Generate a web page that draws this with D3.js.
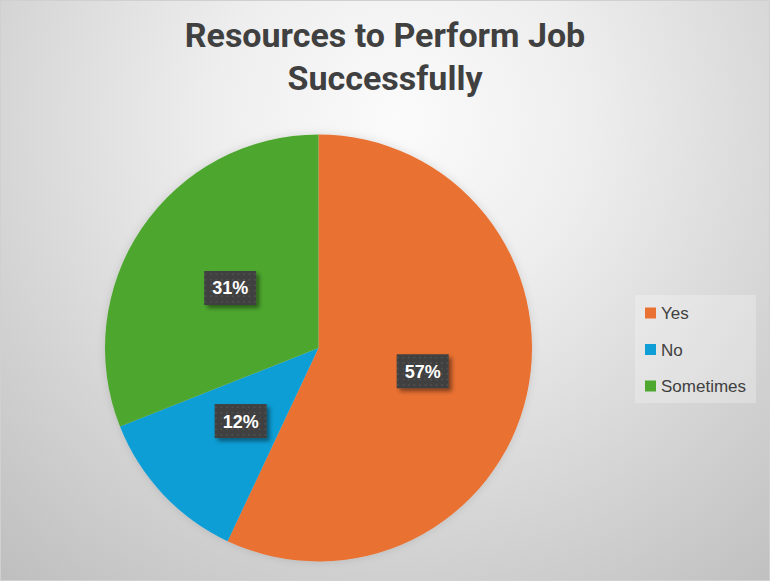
<!DOCTYPE html>
<html lang="en">
<head>
<meta charset="utf-8">
<title>Resources to Perform Job Successfully</title>
<script src="https://d3js.org/d3.v7.min.js"></script>
<style>
  body { margin: 0; background: #fff; }
  svg { display: block; }
  .title { font-family: Roboto, "Liberation Sans", sans-serif; font-weight: bold; fill: #404040; }
  .legend text { font-family: "Liberation Sans", Arial, sans-serif; fill: #404040; }
  .label text { font-family: "Liberation Sans", Arial, sans-serif; font-weight: bold; fill: #fff; }
</style>
</head>
<body>
<script>
var titleLines = ['Resources to Perform Job', 'Successfully'];
var categories = ['Yes', 'No', 'Sometimes'];
var values = [57, 12, 31];
var colors = ['#E97132', '#0F9ED5', '#4EA72E'];

var w = 779, h = 582;
var chartW = 769, chartH = 580;
var cx = 318.5, cy = 348, r = 213.5;

var svg = d3.select('body').append('svg')
    .attr('width', w)
    .attr('height', h);

var defs = svg.append('defs');
var grad = defs.append('radialGradient')
    .attr('id', 'bg')
    .attr('gradientUnits', 'userSpaceOnUse')
    .attr('cx', 400).attr('cy', 120).attr('r', 620);
grad.append('stop').attr('offset', '0%').attr('stop-color', '#fbfbfb');
grad.append('stop').attr('offset', '30%').attr('stop-color', '#eeeeee');
grad.append('stop').attr('offset', '100%').attr('stop-color', '#bdbdbd');

var pat = defs.append('pattern')
    .attr('id', 'dots')
    .attr('patternUnits', 'userSpaceOnUse')
    .attr('width', 5.5).attr('height', 5.5);
pat.append('rect').attr('width', 5.5).attr('height', 5.5).attr('fill', '#3f3f3f');
pat.append('rect').attr('x', 2).attr('y', 2).attr('width', 1.5).attr('height', 1.5).attr('fill', '#575757');

var shadow = defs.append('filter').attr('id', 'shadow')
    .attr('x', '-30%').attr('y', '-30%').attr('width', '160%').attr('height', '160%');
shadow.append('feDropShadow')
    .attr('dx', 3).attr('dy', 3).attr('stdDeviation', 2)
    .attr('flood-color', '#000').attr('flood-opacity', 0.45);

var glow = defs.append('filter').attr('id', 'glow')
    .attr('x', '-10%').attr('y', '-10%').attr('width', '120%').attr('height', '120%');
glow.append('feDropShadow')
    .attr('dx', 0).attr('dy', 0).attr('stdDeviation', 4)
    .attr('flood-color', '#000').attr('flood-opacity', 0.12);

// background
svg.append('rect')
    .attr('x', 0.5).attr('y', 0.5)
    .attr('width', chartW).attr('height', chartH)
    .attr('fill', 'url(#bg)')
    .attr('stroke', '#d0d0d0');

// title
svg.append('text')
    .attr('class', 'title')
    .attr('text-anchor', 'middle')
    .attr('font-size', 34)
    .selectAll('tspan')
    .data(titleLines)
  .enter().append('tspan')
    .attr('x', 385)
    .attr('y', function(d, i) { return 47 + i * 43; })
    .text(function(d) { return d; });

// pie
var pie = d3.pie().sort(null).value(function(d) { return d; });
var arc = d3.arc().innerRadius(0).outerRadius(r);
var labelArc = d3.arc().innerRadius(0).outerRadius(r);
var arcs = pie(values);

var g = svg.append('g')
    .attr('transform', 'translate(' + [cx, cy] + ')');

g.append('g').attr('filter', 'url(#glow)')
  .selectAll('path')
    .data(arcs)
  .enter().append('path')
    .attr('d', arc)
    .attr('fill', function(d, i) { return colors[i]; });

var labels = g.selectAll('.label')
    .data(arcs)
  .enter().append('g')
    .attr('class', 'label')
    .attr('transform', function(d) { return 'translate(' + labelArc.centroid(d) + ')'; });

labels.append('rect')
    .attr('x', -26).attr('y', -17)
    .attr('width', 52).attr('height', 34)
    .attr('fill', 'url(#dots)')
    .attr('filter', 'url(#shadow)');

labels.append('text')
    .attr('text-anchor', 'middle')
    .attr('y', 6.5)
    .attr('font-size', 18)
    .text(function(d) { return d.data + '%'; });

// legend
var ly = d3.scalePoint().domain(categories).range([313, 386]);

var legend = svg.append('g').attr('class', 'legend');
legend.append('rect')
    .attr('x', 635).attr('y', 295)
    .attr('width', 121).attr('height', 108)
    .attr('fill', '#ffffff').attr('fill-opacity', 0.25);

var items = legend.selectAll('.item')
    .data(categories)
  .enter().append('g')
    .attr('class', 'item')
    .attr('transform', function(d) { return 'translate(' + [645, ly(d)] + ')'; });

items.append('rect')
    .attr('x', 0).attr('y', -5.5)
    .attr('width', 11).attr('height', 11)
    .attr('fill', function(d, i) { return colors[i]; });

items.append('text')
    .attr('x', 16)
    .attr('y', 6)
    .attr('font-size', 17)
    .text(function(d) { return d; });
</script>
</body>
</html>
